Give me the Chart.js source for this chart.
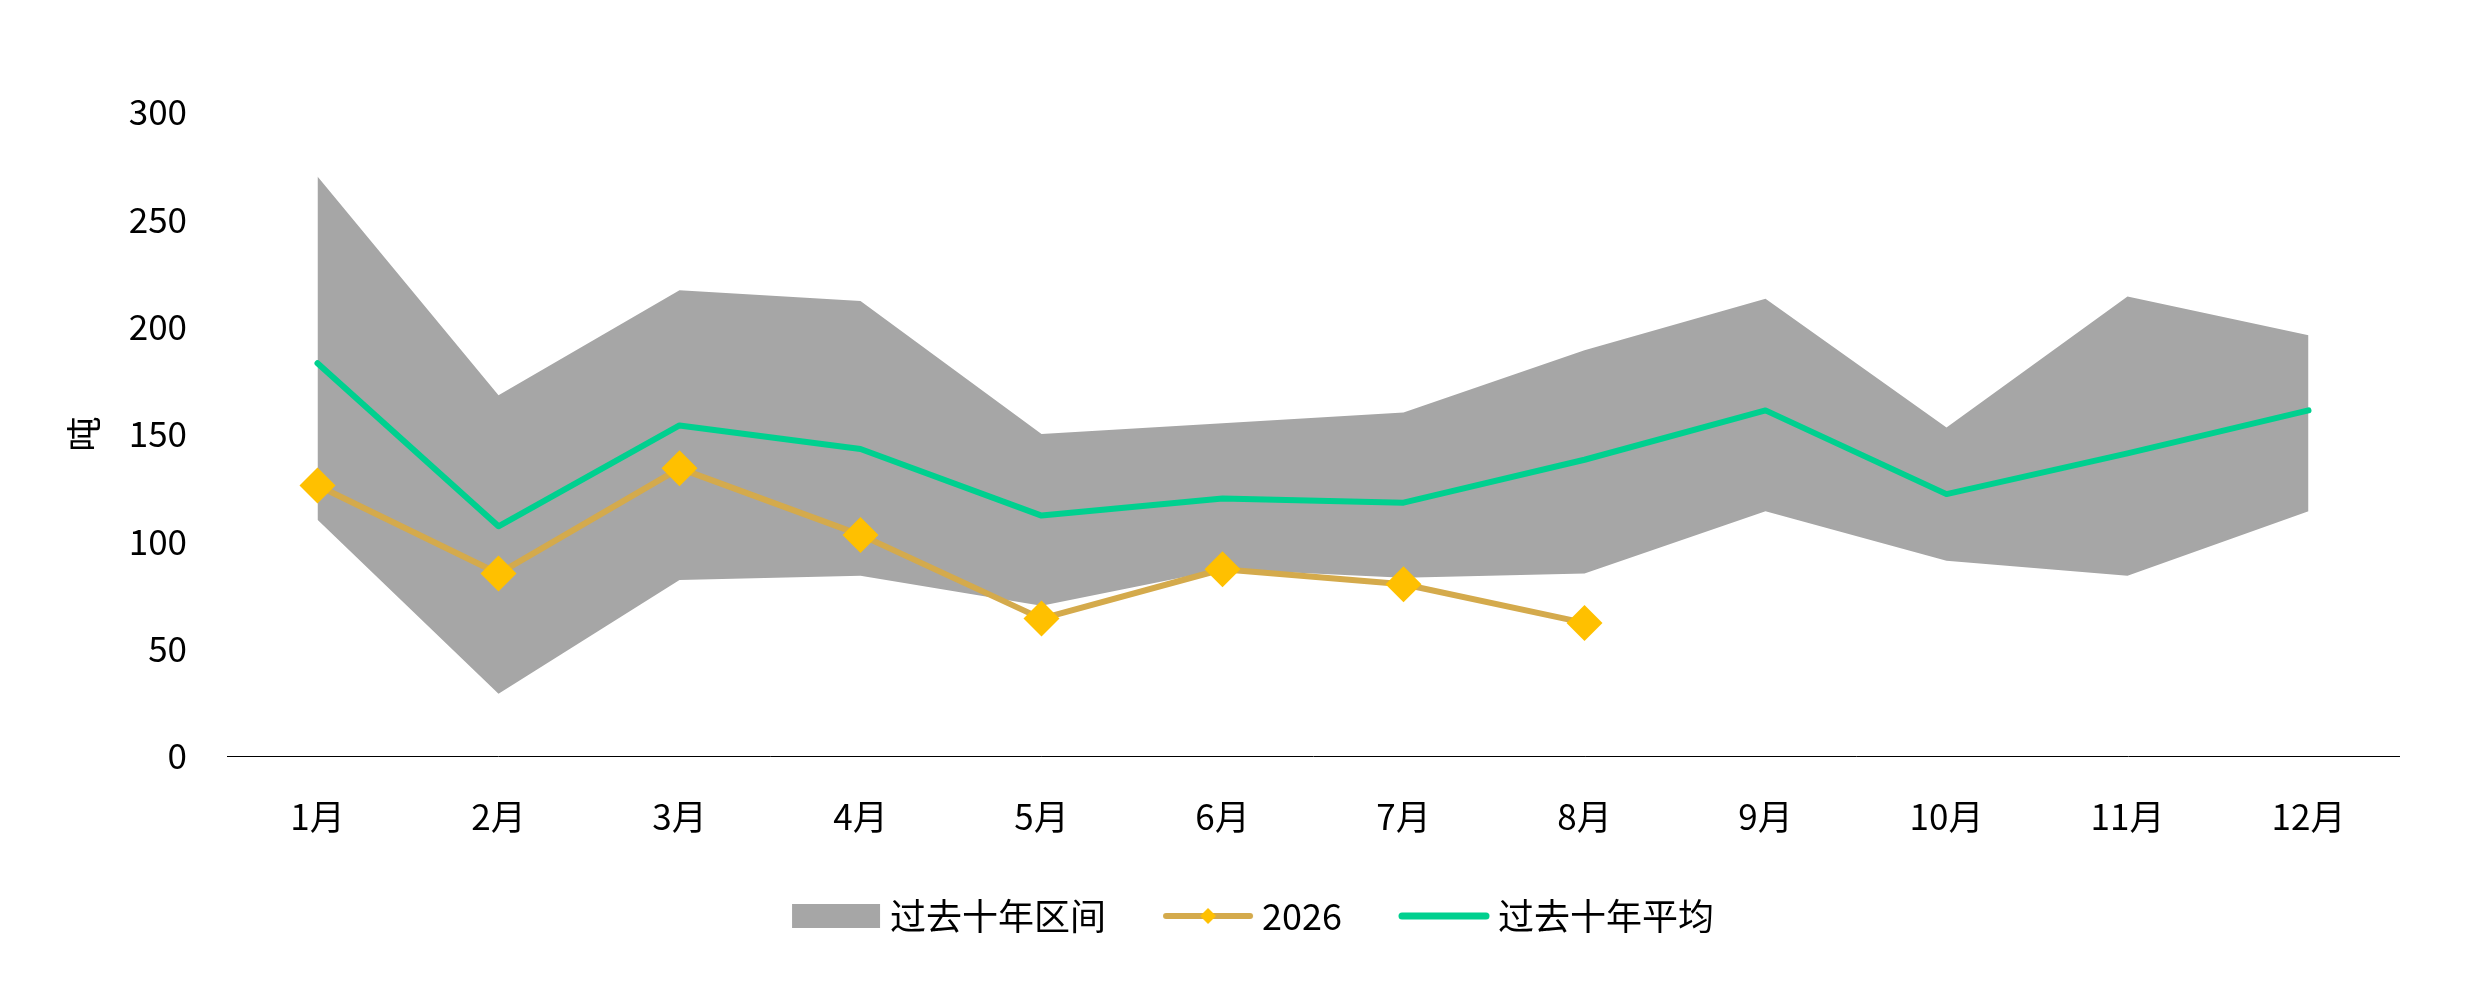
<!DOCTYPE html>
<html>
<head>
<meta charset="utf-8">
<script src="https://cdn.jsdelivr.net/npm/chart.js@4.4.1/dist/chart.umd.min.js"></script>
<style>
  html, body { margin: 0; padding: 0; background: #ffffff; }
  #wrap { width: 2490px; height: 981px; position: relative; }
</style>
</head>
<body>
<div id="wrap"><canvas id="c" width="2490" height="981"></canvas></div>
<script>
// ---- data ----
const months = ['1月','2月','3月','4月','5月','6月','7月','8月','9月','10月','11月','12月'];
const rangeHigh = [270, 168, 217, 212, 150, 155, 160, 189, 213, 153, 214, 196];
const rangeLow  = [110, 29, 82, 84, 70, 87, 83, 85, 114, 91, 84, 114];
const avg10     = [183, 107, 154, 143, 112, 120, 118, 138, 161, 122, 141, 161];
const y2026     = [126, 85, 134, 103, 64, 87, 80, 62, null, null, null, null];
const yTicks    = [0, 50, 100, 150, 200, 250, 300];
const seriesNames = ['过去十年区间', '2026', '过去十年平均'];
const yTitle = '吨';

// ---- styles ----
const GRAY = '#A6A6A6';
const GOLD = '#D4AA4C';
const MARK = '#FFC000';
const GREEN = '#00D08F';
const FONT = '"Noto Sans CJK SC", "Noto Sans", sans-serif';

function makeIcon(kind) {
  const cv = document.createElement('canvas');
  cv.width = 92; cv.height = 24;
  const g = cv.getContext('2d');
  if (kind === 'band') {
    g.fillStyle = GRAY; g.fillRect(2, 0, 88, 24);
  } else {
    g.strokeStyle = kind === 'gold' ? GOLD : GREEN;
    g.lineWidth = kind === 'gold' ? 6 : 7;
    g.lineCap = 'round';
    g.beginPath(); g.moveTo(4, 12); g.lineTo(88, 12); g.stroke();
    if (kind === 'gold') {
      g.fillStyle = MARK;
      g.beginPath(); g.moveTo(46, 4); g.lineTo(54, 12); g.lineTo(46, 20); g.lineTo(38, 12); g.closePath(); g.fill();
    }
  }
  return cv;
}
const icons = [makeIcon('band'), makeIcon('gold'), makeIcon('green')];

const legendShift = {
  id: 'legendShift',
  afterLayout(chart) {
    const lg = chart.legend;
    lg.left += 115;
    lg.top -= 6; lg.bottom -= 6;
  }
};

new Chart(document.getElementById('c'), {
  type: 'line',
  data: {
    labels: months,
    datasets: [
      { label: seriesNames[1], data: y2026, borderColor: GOLD, borderWidth: 6,
        pointStyle: 'rectRot', pointRadius: 18, pointBackgroundColor: MARK, pointBorderWidth: 0,
        pointBorderColor: MARK, fill: false, spanGaps: false, borderJoinStyle: 'round', borderCapStyle: 'round' },
      { label: seriesNames[2], data: avg10, borderColor: GREEN, borderWidth: 6, pointRadius: 0,
        fill: false, borderJoinStyle: 'round', borderCapStyle: 'round' },
      { label: seriesNames[0], data: rangeHigh, borderWidth: 0, borderColor: 'rgba(0,0,0,0)',
        backgroundColor: GRAY, pointRadius: 0, fill: '+1' },
      { label: 'low', data: rangeLow, borderWidth: 0, borderColor: 'rgba(0,0,0,0)',
        backgroundColor: GRAY, pointRadius: 0, fill: false }
    ]
  },
  options: {
    responsive: false,
    animation: false,
    devicePixelRatio: 1,
    layout: { padding: { left: 0, right: 91, top: 112, bottom: 31 } },
    scales: {
      x: {
        type: 'category',
        offset: true,
        afterFit: (s) => { s.height = 82; },
        grid: { display: false, drawTicks: false },
        border: { display: true, color: '#000000', width: 1 },
        ticks: { color: '#000', font: { family: FONT, size: 35 }, padding: 40, maxRotation: 0 }
      },
      y: {
        min: 0, max: 300,
        afterFit: (s) => { s.width = 227; },
        afterBuildTicks: (s) => { s.ticks = yTicks.map(v => ({ value: v })); },
        grid: { display: false, drawTicks: false },
        border: { display: false },
        ticks: { color: '#000', font: { family: FONT, size: 35 }, padding: 40 },
        title: { display: true, text: yTitle, color: '#000', font: { family: FONT, size: 35 }, padding: { top: 63, bottom: 0 } }
      }
    },
    plugins: {
      filler: { drawTime: 'beforeDatasetsDraw' },
      tooltip: { enabled: false },
      legend: {
        position: 'bottom',
        labels: {
          color: '#000',
          font: { family: FONT, size: 36 },
          boxWidth: 72,
          boxHeight: 24,
          pointStyleWidth: 72,
          padding: 66,
          usePointStyle: true,
          generateLabels: () => seriesNames.map((n, i) => ({
            text: n, pointStyle: icons[i], fillStyle: 'transparent', strokeStyle: 'transparent',
            lineWidth: 0, hidden: false, datasetIndex: [2, 0, 1][i], fontColor: '#000'
          }))
        }
      }
    }
  },
  plugins: [legendShift]
});
</script>
</body>
</html>
